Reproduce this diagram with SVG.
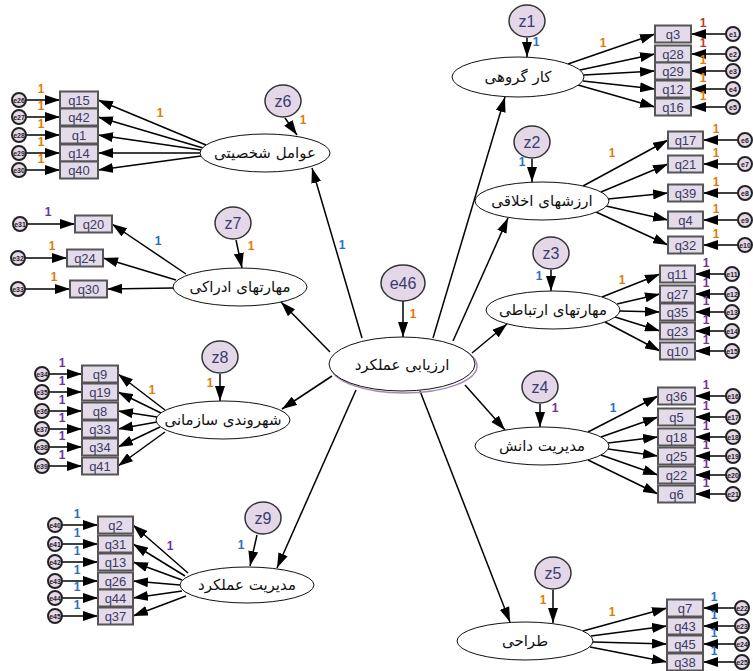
<svg xmlns="http://www.w3.org/2000/svg" width="753" height="671" viewBox="0 0 753 671">
<style>
.lat{fill:#fff;stroke:#111;stroke-width:1}
.lt{font-family:"DejaVu Sans",sans-serif;font-size:15px;text-anchor:middle;fill:#111}
.box{fill:#e4dbea;stroke:#555;stroke-width:2}
.qt{font-family:"Liberation Sans",Arial,sans-serif;font-size:13px;fill:#3b3b5e;text-anchor:middle}
.zc{fill:#e4d8e8;stroke:#333;stroke-width:1.5}
.zt{font-family:"Liberation Sans",Arial,sans-serif;font-size:16px;fill:#3b3b6e;text-anchor:middle}
.ec{fill:#e4d8e8;stroke:#222;stroke-width:2}
.et{font-family:"Liberation Sans",Arial,sans-serif;font-size:7px;fill:#222;text-anchor:middle;font-weight:bold}
.w{stroke:#000;stroke-width:1.5;fill:none;marker-end:url(#ah)}
.one{font-family:"Liberation Sans",Arial,sans-serif;font-size:12px;font-weight:bold;text-anchor:middle}
.o{fill:#e07b00}.p{fill:#7030a0}.b{fill:#2a6fbf}.r{fill:#c0392b}
</style>
<defs>
<marker id="ah" markerUnits="userSpaceOnUse" markerWidth="15" markerHeight="10" refX="15" refY="5" orient="auto"><path d="M0,0 L15,5 L0,10 z" fill="#000"/></marker>
</defs>
<rect width="753" height="671" fill="#fff"/>

<g id="connectors">
<line class="w" x1="403" y1="301" x2="403" y2="337"/>
<line class="w" x1="433" y1="338" x2="505" y2="97"/>
<line class="w" x1="453" y1="341" x2="508" y2="218"/>
<line class="w" x1="472" y1="353" x2="507" y2="324"/>
<line class="w" x1="465" y1="385" x2="505" y2="430"/>
<line class="w" x1="420" y1="391" x2="510" y2="622"/>
<line class="w" x1="362" y1="338" x2="312" y2="168"/>
<line class="w" x1="330" y1="352" x2="281" y2="302"/>
<line class="w" x1="332" y1="376" x2="282" y2="409"/>
<line class="w" x1="356" y1="390" x2="277" y2="568"/>
<line class="w" x1="527" y1="38" x2="527" y2="57"/>
<line class="w" x1="532" y1="159" x2="532" y2="182"/>
<line class="w" x1="551" y1="270" x2="551" y2="291"/>
<line class="w" x1="540" y1="404" x2="540" y2="427"/>
<line class="w" x1="553" y1="590" x2="553" y2="623"/>
<line class="w" x1="285" y1="118" x2="297" y2="135"/>
<line class="w" x1="236" y1="240" x2="242" y2="268"/>
<line class="w" x1="220" y1="374" x2="220" y2="401"/>
<line class="w" x1="257" y1="535" x2="250" y2="566"/>
<line class="w" x1="568" y1="64" x2="655" y2="34"/>
<line class="w" x1="580" y1="70" x2="655" y2="54"/>
<line class="w" x1="584" y1="75" x2="655" y2="71"/>
<line class="w" x1="583" y1="81" x2="655" y2="89"/>
<line class="w" x1="578" y1="85" x2="655" y2="107"/>
<line class="w" x1="726" y1="34" x2="691" y2="34"/>
<line class="w" x1="726" y1="54" x2="691" y2="54"/>
<line class="w" x1="726" y1="71" x2="691" y2="71"/>
<line class="w" x1="726" y1="89" x2="691" y2="89"/>
<line class="w" x1="726" y1="107" x2="691" y2="107"/>
<line class="w" x1="583" y1="186" x2="668" y2="140"/>
<line class="w" x1="601" y1="192" x2="668" y2="164"/>
<line class="w" x1="608" y1="199" x2="668" y2="193"/>
<line class="w" x1="606" y1="206" x2="668" y2="220"/>
<line class="w" x1="596" y1="212" x2="668" y2="245"/>
<line class="w" x1="738" y1="140" x2="703" y2="140"/>
<line class="w" x1="738" y1="164" x2="703" y2="164"/>
<line class="w" x1="738" y1="193" x2="703" y2="193"/>
<line class="w" x1="738" y1="220" x2="703" y2="220"/>
<line class="w" x1="738" y1="245" x2="703" y2="245"/>
<line class="w" x1="602" y1="297" x2="660" y2="274"/>
<line class="w" x1="617" y1="304" x2="660" y2="294"/>
<line class="w" x1="620" y1="311" x2="660" y2="312"/>
<line class="w" x1="615" y1="317" x2="660" y2="331"/>
<line class="w" x1="605" y1="322" x2="660" y2="351"/>
<line class="w" x1="725" y1="274" x2="695" y2="274"/>
<line class="w" x1="725" y1="294" x2="695" y2="294"/>
<line class="w" x1="725" y1="312" x2="695" y2="312"/>
<line class="w" x1="725" y1="331" x2="695" y2="331"/>
<line class="w" x1="725" y1="351" x2="695" y2="351"/>
<line class="w" x1="588" y1="432" x2="658" y2="396"/>
<line class="w" x1="601" y1="437" x2="658" y2="417"/>
<line class="w" x1="608" y1="443" x2="658" y2="437"/>
<line class="w" x1="608" y1="449" x2="658" y2="456"/>
<line class="w" x1="601" y1="455" x2="658" y2="475"/>
<line class="w" x1="588" y1="460" x2="658" y2="494"/>
<line class="w" x1="726" y1="396" x2="695" y2="396"/>
<line class="w" x1="726" y1="417" x2="695" y2="417"/>
<line class="w" x1="726" y1="437" x2="695" y2="437"/>
<line class="w" x1="726" y1="456" x2="695" y2="456"/>
<line class="w" x1="726" y1="475" x2="695" y2="475"/>
<line class="w" x1="726" y1="494" x2="695" y2="494"/>
<line class="w" x1="583" y1="631" x2="667" y2="608"/>
<line class="w" x1="591" y1="636" x2="667" y2="626"/>
<line class="w" x1="593" y1="642" x2="667" y2="644"/>
<line class="w" x1="590" y1="647" x2="667" y2="662"/>
<line class="w" x1="735" y1="608" x2="703" y2="608"/>
<line class="w" x1="735" y1="626" x2="703" y2="626"/>
<line class="w" x1="735" y1="644" x2="703" y2="644"/>
<line class="w" x1="735" y1="662" x2="703" y2="662"/>
<line class="w" x1="206" y1="145" x2="98" y2="100"/>
<line class="w" x1="203" y1="148" x2="98" y2="117"/>
<line class="w" x1="201" y1="150" x2="98" y2="135"/>
<line class="w" x1="200" y1="153" x2="98" y2="153"/>
<line class="w" x1="201" y1="156" x2="98" y2="170"/>
<line class="w" x1="26" y1="100" x2="60" y2="100"/>
<line class="w" x1="26" y1="117" x2="60" y2="117"/>
<line class="w" x1="26" y1="135" x2="60" y2="135"/>
<line class="w" x1="26" y1="153" x2="60" y2="153"/>
<line class="w" x1="26" y1="170" x2="60" y2="170"/>
<line class="w" x1="186" y1="274" x2="112" y2="224"/>
<line class="w" x1="176" y1="280" x2="103" y2="258"/>
<line class="w" x1="173" y1="288" x2="107" y2="289"/>
<line class="w" x1="27" y1="224" x2="75" y2="224"/>
<line class="w" x1="25" y1="258" x2="67" y2="258"/>
<line class="w" x1="25" y1="289" x2="70" y2="289"/>
<line class="w" x1="165" y1="410" x2="118" y2="374"/>
<line class="w" x1="161" y1="413" x2="118" y2="392"/>
<line class="w" x1="157" y1="417" x2="118" y2="411"/>
<line class="w" x1="157" y1="422" x2="118" y2="429"/>
<line class="w" x1="160" y1="427" x2="118" y2="447"/>
<line class="w" x1="165" y1="432" x2="118" y2="466"/>
<line class="w" x1="49" y1="374" x2="82" y2="374"/>
<line class="w" x1="49" y1="392" x2="82" y2="392"/>
<line class="w" x1="49" y1="411" x2="82" y2="411"/>
<line class="w" x1="49" y1="429" x2="82" y2="429"/>
<line class="w" x1="49" y1="447" x2="82" y2="447"/>
<line class="w" x1="49" y1="466" x2="82" y2="466"/>
<line class="w" x1="188" y1="573" x2="133" y2="525"/>
<line class="w" x1="185" y1="576" x2="133" y2="544"/>
<line class="w" x1="182" y1="580" x2="133" y2="562"/>
<line class="w" x1="180" y1="585" x2="133" y2="581"/>
<line class="w" x1="182" y1="591" x2="133" y2="598"/>
<line class="w" x1="186" y1="596" x2="133" y2="616"/>
<line class="w" x1="62" y1="525" x2="98" y2="525"/>
<line class="w" x1="62" y1="544" x2="98" y2="544"/>
<line class="w" x1="62" y1="562" x2="98" y2="562"/>
<line class="w" x1="62" y1="581" x2="98" y2="581"/>
<line class="w" x1="62" y1="598" x2="98" y2="598"/>
<line class="w" x1="62" y1="616" x2="98" y2="616"/>
</g>

<g id="weights">
<text class="one o" x="413" y="318">1</text>
<text class="one b" x="342" y="249">1</text>
<text class="one b" x="536" y="46">1</text>
<text class="one b" x="522" y="166">1</text>
<text class="one b" x="539" y="280">1</text>
<text class="one p" x="555" y="412">1</text>
<text class="one o" x="543" y="604">1</text>
<text class="one o" x="303" y="124">1</text>
<text class="one o" x="251" y="250">1</text>
<text class="one o" x="210" y="387">1</text>
<text class="one b" x="241" y="549">1</text>
<text class="one o" x="603" y="47">1</text>
<text class="one o" x="612" y="157">1</text>
<text class="one o" x="622" y="284">1</text>
<text class="one b" x="613" y="412">1</text>
<text class="one o" x="612" y="616">1</text>
<text class="one o" x="160" y="117">1</text>
<text class="one b" x="158" y="245">1</text>
<text class="one o" x="152" y="394">1</text>
<text class="one p" x="170" y="550">1</text>
<text class="one r" x="703" y="27">1</text>
<text class="one r" x="703" y="47">1</text>
<text class="one o" x="703" y="64">1</text>
<text class="one o" x="703" y="82">1</text>
<text class="one o" x="703" y="100">1</text>
<text class="one o" x="716" y="133">1</text>
<text class="one o" x="716" y="157">1</text>
<text class="one o" x="716" y="186">1</text>
<text class="one o" x="716" y="213">1</text>
<text class="one o" x="716" y="238">1</text>
<text class="one p" x="706" y="267">1</text>
<text class="one p" x="706" y="287">1</text>
<text class="one p" x="706" y="305">1</text>
<text class="one p" x="706" y="324">1</text>
<text class="one p" x="706" y="344">1</text>
<text class="one p" x="706" y="389">1</text>
<text class="one p" x="706" y="410">1</text>
<text class="one p" x="706" y="430">1</text>
<text class="one p" x="706" y="449">1</text>
<text class="one p" x="706" y="468">1</text>
<text class="one p" x="706" y="487">1</text>
<text class="one b" x="714" y="601">1</text>
<text class="one b" x="714" y="619">1</text>
<text class="one b" x="714" y="637">1</text>
<text class="one b" x="714" y="655">1</text>
<text class="one o" x="41" y="93">1</text>
<text class="one o" x="41" y="110">1</text>
<text class="one o" x="41" y="128">1</text>
<text class="one o" x="41" y="146">1</text>
<text class="one o" x="41" y="163">1</text>
<text class="one p" x="48" y="216">1</text>
<text class="one o" x="52" y="250">1</text>
<text class="one o" x="54" y="281">1</text>
<text class="one p" x="62" y="367">1</text>
<text class="one p" x="62" y="385">1</text>
<text class="one p" x="62" y="404">1</text>
<text class="one p" x="62" y="422">1</text>
<text class="one p" x="62" y="440">1</text>
<text class="one p" x="62" y="459">1</text>
<text class="one b" x="77" y="518">1</text>
<text class="one b" x="77" y="537">1</text>
<text class="one b" x="77" y="555">1</text>
<text class="one b" x="77" y="574">1</text>
<text class="one b" x="77" y="591">1</text>
<text class="one b" x="77" y="609">1</text>
</g>

<g id="n-center">
<ellipse cx="404" cy="366" rx="73" ry="27" fill="none" stroke="#a58ab5" stroke-width="1.5"/>
<ellipse class="lat" cx="402" cy="364" rx="73" ry="27"/>
<text class="lt" x="402" y="370" font-size="16">ارزیابی عملکرد</text>
</g>
<g id="n-e46"><ellipse class="zc" cx="403" cy="283" rx="22" ry="18"/><text class="zt" x="403" y="289" font-size="17">e46</text></g>

<g id="n-l1"><ellipse class="lat" cx="518" cy="77" rx="66" ry="20"/><text class="lt" x="518" y="82">کار گروهی</text></g>
<g id="n-z1"><ellipse class="zc" cx="527" cy="21" rx="18" ry="16"/><text class="zt" x="527" y="27">z1</text></g>
<g id="n-q3"><rect class="box" x="655" y="25.5" width="36" height="17"/><text class="qt" x="673" y="38.5">q3</text></g>
<g id="n-q28"><rect class="box" x="655" y="45.5" width="36" height="17"/><text class="qt" x="673" y="58.5">q28</text></g>
<g id="n-q29"><rect class="box" x="655" y="62.5" width="36" height="17"/><text class="qt" x="673" y="75.5">q29</text></g>
<g id="n-q12"><rect class="box" x="655" y="80.5" width="36" height="17"/><text class="qt" x="673" y="93.5">q12</text></g>
<g id="n-q16"><rect class="box" x="655" y="98.5" width="36" height="17"/><text class="qt" x="673" y="111.5">q16</text></g>
<g id="n-e1"><circle class="ec" cx="733" cy="34" r="7"/><text class="et" x="733" y="36.5">e1</text></g>
<g id="n-e2"><circle class="ec" cx="733" cy="54" r="7"/><text class="et" x="733" y="56.5">e2</text></g>
<g id="n-e3"><circle class="ec" cx="733" cy="71" r="7"/><text class="et" x="733" y="73.5">e3</text></g>
<g id="n-e4"><circle class="ec" cx="733" cy="89" r="7"/><text class="et" x="733" y="91.5">e4</text></g>
<g id="n-e5"><circle class="ec" cx="733" cy="107" r="7"/><text class="et" x="733" y="109.5">e5</text></g>

<g id="n-l2"><ellipse class="lat" cx="542" cy="201" rx="67" ry="19"/><text class="lt" x="542" y="206">ارزشهای اخلاقی</text></g>
<g id="n-z2"><ellipse class="zc" cx="532" cy="142" rx="18" ry="16"/><text class="zt" x="532" y="148">z2</text></g>
<g id="n-q17"><rect class="box" x="668" y="131.5" width="35" height="17"/><text class="qt" x="685.5" y="144.5">q17</text></g>
<g id="n-q21"><rect class="box" x="668" y="155.5" width="35" height="17"/><text class="qt" x="685.5" y="168.5">q21</text></g>
<g id="n-q39"><rect class="box" x="668" y="184.5" width="35" height="17"/><text class="qt" x="685.5" y="197.5">q39</text></g>
<g id="n-q4"><rect class="box" x="668" y="211.5" width="35" height="17"/><text class="qt" x="685.5" y="224.5">q4</text></g>
<g id="n-q32"><rect class="box" x="668" y="236.5" width="35" height="17"/><text class="qt" x="685.5" y="249.5">q32</text></g>
<g id="n-e6"><circle class="ec" cx="745" cy="140" r="7"/><text class="et" x="745" y="142.5">e6</text></g>
<g id="n-e7"><circle class="ec" cx="745" cy="164" r="7"/><text class="et" x="745" y="166.5">e7</text></g>
<g id="n-e8"><circle class="ec" cx="745" cy="193" r="7"/><text class="et" x="745" y="195.5">e8</text></g>
<g id="n-e9"><circle class="ec" cx="745" cy="220" r="7"/><text class="et" x="745" y="222.5">e9</text></g>
<g id="n-e10"><circle class="ec" cx="745" cy="245" r="7"/><text class="et" x="745" y="247.5">e10</text></g>

<g id="n-l3"><ellipse class="lat" cx="553" cy="310" rx="67" ry="19"/><text class="lt" x="553" y="315">مهارتهای ارتباطی</text></g>
<g id="n-z3"><ellipse class="zc" cx="551" cy="253" rx="18" ry="16"/><text class="zt" x="551" y="259">z3</text></g>
<g id="n-q11"><rect class="box" x="660" y="265.5" width="35" height="17"/><text class="qt" x="677.5" y="278.5">q11</text></g>
<g id="n-q27"><rect class="box" x="660" y="285.5" width="35" height="17"/><text class="qt" x="677.5" y="298.5">q27</text></g>
<g id="n-q35"><rect class="box" x="660" y="303.5" width="35" height="17"/><text class="qt" x="677.5" y="316.5">q35</text></g>
<g id="n-q23"><rect class="box" x="660" y="322.5" width="35" height="17"/><text class="qt" x="677.5" y="335.5">q23</text></g>
<g id="n-q10"><rect class="box" x="660" y="342.5" width="35" height="17"/><text class="qt" x="677.5" y="355.5">q10</text></g>
<g id="n-e11"><circle class="ec" cx="732" cy="274" r="7"/><text class="et" x="732" y="276.5">e11</text></g>
<g id="n-e12"><circle class="ec" cx="732" cy="294" r="7"/><text class="et" x="732" y="296.5">e12</text></g>
<g id="n-e13"><circle class="ec" cx="732" cy="312" r="7"/><text class="et" x="732" y="314.5">e13</text></g>
<g id="n-e14"><circle class="ec" cx="732" cy="331" r="7"/><text class="et" x="732" y="333.5">e14</text></g>
<g id="n-e15"><circle class="ec" cx="732" cy="351" r="7"/><text class="et" x="732" y="353.5">e15</text></g>

<g id="n-l4"><ellipse class="lat" cx="542" cy="446" rx="67" ry="19"/><text class="lt" x="542" y="451">مدیریت دانش</text></g>
<g id="n-z4"><ellipse class="zc" cx="540" cy="387" rx="18" ry="16"/><text class="zt" x="540" y="393">z4</text></g>
<g id="n-q36"><rect class="box" x="658" y="387.5" width="37" height="17"/><text class="qt" x="676.5" y="400.5">q36</text></g>
<g id="n-q5"><rect class="box" x="658" y="408.5" width="37" height="17"/><text class="qt" x="676.5" y="421.5">q5</text></g>
<g id="n-q18"><rect class="box" x="658" y="428.5" width="37" height="17"/><text class="qt" x="676.5" y="441.5">q18</text></g>
<g id="n-q25"><rect class="box" x="658" y="447.5" width="37" height="17"/><text class="qt" x="676.5" y="460.5">q25</text></g>
<g id="n-q22"><rect class="box" x="658" y="466.5" width="37" height="17"/><text class="qt" x="676.5" y="479.5">q22</text></g>
<g id="n-q6"><rect class="box" x="658" y="485.5" width="37" height="17"/><text class="qt" x="676.5" y="498.5">q6</text></g>
<g id="n-e16"><circle class="ec" cx="733" cy="396" r="7"/><text class="et" x="733" y="398.5">e16</text></g>
<g id="n-e17"><circle class="ec" cx="733" cy="417" r="7"/><text class="et" x="733" y="419.5">e17</text></g>
<g id="n-e18"><circle class="ec" cx="733" cy="437" r="7"/><text class="et" x="733" y="439.5">e18</text></g>
<g id="n-e19"><circle class="ec" cx="733" cy="456" r="7"/><text class="et" x="733" y="458.5">e19</text></g>
<g id="n-e20"><circle class="ec" cx="733" cy="475" r="7"/><text class="et" x="733" y="477.5">e20</text></g>
<g id="n-e21"><circle class="ec" cx="733" cy="494" r="7"/><text class="et" x="733" y="496.5">e21</text></g>

<g id="n-l5"><ellipse class="lat" cx="525" cy="641" rx="68" ry="19"/><text class="lt" x="525" y="646">طراحی</text></g>
<g id="n-z5"><ellipse class="zc" cx="553" cy="573" rx="18" ry="16"/><text class="zt" x="553" y="579">z5</text></g>
<g id="n-q7"><rect class="box" x="667" y="599.5" width="36" height="17"/><text class="qt" x="685" y="612.5">q7</text></g>
<g id="n-q43"><rect class="box" x="667" y="617.5" width="36" height="17"/><text class="qt" x="685" y="630.5">q43</text></g>
<g id="n-q45"><rect class="box" x="667" y="635.5" width="36" height="17"/><text class="qt" x="685" y="648.5">q45</text></g>
<g id="n-q38"><rect class="box" x="667" y="653.5" width="36" height="17"/><text class="qt" x="685" y="666.5">q38</text></g>
<g id="n-e22"><circle class="ec" cx="742" cy="608" r="7"/><text class="et" x="742" y="610.5">e22</text></g>
<g id="n-e23"><circle class="ec" cx="742" cy="626" r="7"/><text class="et" x="742" y="628.5">e23</text></g>
<g id="n-e24"><circle class="ec" cx="742" cy="644" r="7"/><text class="et" x="742" y="646.5">e24</text></g>
<g id="n-e25"><circle class="ec" cx="742" cy="662" r="7"/><text class="et" x="742" y="664.5">e25</text></g>

<g id="n-l6"><ellipse class="lat" cx="265" cy="153" rx="65" ry="19"/><text class="lt" x="265" y="158">عوامل شخصیتی</text></g>
<g id="n-z6"><ellipse class="zc" cx="283" cy="101" rx="18" ry="16"/><text class="zt" x="283" y="107">z6</text></g>
<g id="n-q15"><rect class="box" x="60" y="91.5" width="38" height="17"/><text class="qt" x="79" y="104.5">q15</text></g>
<g id="n-q42"><rect class="box" x="60" y="108.5" width="38" height="17"/><text class="qt" x="79" y="121.5">q42</text></g>
<g id="n-q1"><rect class="box" x="60" y="126.5" width="38" height="17"/><text class="qt" x="79" y="139.5">q1</text></g>
<g id="n-q14"><rect class="box" x="60" y="144.5" width="38" height="17"/><text class="qt" x="79" y="157.5">q14</text></g>
<g id="n-q40"><rect class="box" x="60" y="161.5" width="38" height="17"/><text class="qt" x="79" y="174.5">q40</text></g>
<g id="n-e26"><circle class="ec" cx="19" cy="100" r="7"/><text class="et" x="19" y="102.5">e26</text></g>
<g id="n-e27"><circle class="ec" cx="19" cy="117" r="7"/><text class="et" x="19" y="119.5">e27</text></g>
<g id="n-e28"><circle class="ec" cx="19" cy="135" r="7"/><text class="et" x="19" y="137.5">e28</text></g>
<g id="n-e29"><circle class="ec" cx="19" cy="153" r="7"/><text class="et" x="19" y="155.5">e29</text></g>
<g id="n-e30"><circle class="ec" cx="19" cy="170" r="7"/><text class="et" x="19" y="172.5">e30</text></g>

<g id="n-l7"><ellipse class="lat" cx="240" cy="287" rx="67" ry="19"/><text class="lt" x="240" y="292">مهارتهای ادراکی</text></g>
<g id="n-z7"><ellipse class="zc" cx="233" cy="223" rx="18" ry="16"/><text class="zt" x="233" y="229">z7</text></g>
<g id="n-q20"><rect class="box" x="75" y="215.5" width="37" height="17"/><text class="qt" x="93.5" y="228.5">q20</text></g>
<g id="n-q24"><rect class="box" x="67" y="249.5" width="36" height="17"/><text class="qt" x="85" y="262.5">q24</text></g>
<g id="n-q30"><rect class="box" x="70" y="280.5" width="37" height="17"/><text class="qt" x="88.5" y="293.5">q30</text></g>
<g id="n-e31"><circle class="ec" cx="20" cy="224" r="7"/><text class="et" x="20" y="226.5">e31</text></g>
<g id="n-e32"><circle class="ec" cx="18" cy="258" r="7"/><text class="et" x="18" y="260.5">e32</text></g>
<g id="n-e33"><circle class="ec" cx="18" cy="289" r="7"/><text class="et" x="18" y="291.5">e33</text></g>

<g id="n-l8"><ellipse class="lat" cx="223" cy="420" rx="67" ry="19"/><text class="lt" x="223" y="425">شهروندی سازمانی</text></g>
<g id="n-z8"><ellipse class="zc" cx="220" cy="357" rx="18" ry="16"/><text class="zt" x="220" y="363">z8</text></g>
<g id="n-q9"><rect class="box" x="82" y="365.5" width="36" height="17"/><text class="qt" x="100" y="378.5">q9</text></g>
<g id="n-q19"><rect class="box" x="82" y="383.5" width="36" height="17"/><text class="qt" x="100" y="396.5">q19</text></g>
<g id="n-q8"><rect class="box" x="82" y="402.5" width="36" height="17"/><text class="qt" x="100" y="415.5">q8</text></g>
<g id="n-q33"><rect class="box" x="82" y="420.5" width="36" height="17"/><text class="qt" x="100" y="433.5">q33</text></g>
<g id="n-q34"><rect class="box" x="82" y="438.5" width="36" height="17"/><text class="qt" x="100" y="451.5">q34</text></g>
<g id="n-q41"><rect class="box" x="82" y="457.5" width="36" height="17"/><text class="qt" x="100" y="470.5">q41</text></g>
<g id="n-e34"><circle class="ec" cx="42" cy="374" r="7"/><text class="et" x="42" y="376.5">e34</text></g>
<g id="n-e35"><circle class="ec" cx="42" cy="392" r="7"/><text class="et" x="42" y="394.5">e35</text></g>
<g id="n-e36"><circle class="ec" cx="42" cy="411" r="7"/><text class="et" x="42" y="413.5">e36</text></g>
<g id="n-e37"><circle class="ec" cx="42" cy="429" r="7"/><text class="et" x="42" y="431.5">e37</text></g>
<g id="n-e38"><circle class="ec" cx="42" cy="447" r="7"/><text class="et" x="42" y="449.5">e38</text></g>
<g id="n-e39"><circle class="ec" cx="42" cy="466" r="7"/><text class="et" x="42" y="468.5">e39</text></g>

<g id="n-l9"><ellipse class="lat" cx="247" cy="585" rx="67" ry="18"/><text class="lt" x="247" y="590">مدیریت عملکرد</text></g>
<g id="n-z9"><ellipse class="zc" cx="263" cy="518" rx="18" ry="16"/><text class="zt" x="263" y="524">z9</text></g>
<g id="n-q2"><rect class="box" x="98" y="516.5" width="35" height="17"/><text class="qt" x="115.5" y="529.5">q2</text></g>
<g id="n-q31"><rect class="box" x="98" y="535.5" width="35" height="17"/><text class="qt" x="115.5" y="548.5">q31</text></g>
<g id="n-q13"><rect class="box" x="98" y="553.5" width="35" height="17"/><text class="qt" x="115.5" y="566.5">q13</text></g>
<g id="n-q26"><rect class="box" x="98" y="572.5" width="35" height="17"/><text class="qt" x="115.5" y="585.5">q26</text></g>
<g id="n-q44"><rect class="box" x="98" y="589.5" width="35" height="17"/><text class="qt" x="115.5" y="602.5">q44</text></g>
<g id="n-q37"><rect class="box" x="98" y="607.5" width="35" height="17"/><text class="qt" x="115.5" y="620.5">q37</text></g>
<g id="n-e40"><circle class="ec" cx="55" cy="525" r="7"/><text class="et" x="55" y="527.5">e40</text></g>
<g id="n-e41"><circle class="ec" cx="55" cy="544" r="7"/><text class="et" x="55" y="546.5">e41</text></g>
<g id="n-e42"><circle class="ec" cx="55" cy="562" r="7"/><text class="et" x="55" y="564.5">e42</text></g>
<g id="n-e43"><circle class="ec" cx="55" cy="581" r="7"/><text class="et" x="55" y="583.5">e43</text></g>
<g id="n-e44"><circle class="ec" cx="55" cy="598" r="7"/><text class="et" x="55" y="600.5">e44</text></g>
<g id="n-e45"><circle class="ec" cx="55" cy="616" r="7"/><text class="et" x="55" y="618.5">e45</text></g>
</svg>
